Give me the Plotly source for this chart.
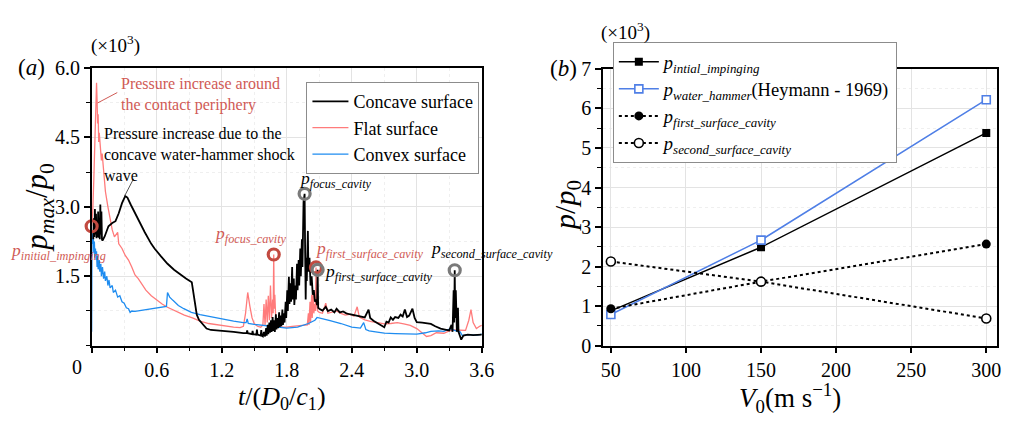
import plotly.graph_objects as go

W, H = 1016, 425
SERIF = "Liberation Serif"


def px(x):
    return x / W


def py(y):
    return 1 - y / H


# ---------------- panel (a): p_max/p0 (x10^3) against t/(D0/c1) ----------------
concave_t = [0.015, 0.02, 0.025, 0.03, 0.035, 0.04, 0.045, 0.05, 0.055, 0.06, 0.065, 0.07, 0.075,
             0.08, 0.085, 0.09, 0.095, 0.1, 0.12, 0.155, 0.19, 0.22, 0.25, 0.28, 0.31, 0.33, 0.36,
             0.4, 0.45, 0.49, 0.55, 0.58, 0.64, 0.70, 0.76, 0.82, 0.87, 0.924, 0.935, 0.945, 0.96,
             0.97, 0.99, 1.02, 1.06, 1.1, 1.16, 1.25, 1.31, 1.40, 1.43, 1.435, 1.44, 1.48, 1.485,
             1.49, 1.52, 1.525, 1.53, 1.56, 1.565, 1.57, 1.58, 1.59, 1.6, 1.61, 1.615, 1.625, 1.63,
             1.64, 1.645, 1.655, 1.66, 1.67, 1.675, 1.685, 1.69, 1.70, 1.705, 1.715, 1.72, 1.73,
             1.735, 1.745, 1.75, 1.76, 1.765, 1.775, 1.78, 1.79, 1.795, 1.805, 1.81, 1.82, 1.825,
             1.835, 1.84, 1.85, 1.855, 1.865, 1.87, 1.88, 1.885, 1.895, 1.90, 1.91, 1.915, 1.925,
             1.93, 1.94, 1.945, 1.955, 1.965, 1.97, 1.975, 1.98, 1.985, 1.995, 2.0, 2.01, 2.02,
             2.03, 2.04, 2.05, 2.06, 2.07, 2.08, 2.085, 2.09, 2.1, 2.13, 2.16, 2.18, 2.21, 2.24,
             2.26, 2.29, 2.32, 2.35, 2.38, 2.4, 2.44, 2.48, 2.52, 2.555, 2.57, 2.6, 2.63, 2.66,
             2.70, 2.72, 2.74, 2.76, 2.78, 2.80, 2.83, 2.85, 2.87, 2.89, 2.91, 2.93, 2.96, 2.98,
             3.0, 3.05, 3.1, 3.13, 3.17, 3.22, 3.26, 3.30, 3.32, 3.33, 3.34, 3.345, 3.35, 3.355,
             3.36, 3.37, 3.38, 3.385, 3.40, 3.41, 3.43, 3.47, 3.52, 3.56, 3.6]
concave_v = [2.30, 2.75, 2.35, 2.95, 2.40, 2.85, 2.32, 2.70, 2.35, 2.90, 2.33, 2.75, 2.30,
             3.05, 2.40, 2.90, 2.30, 2.27, 2.36, 2.58, 2.65, 2.69, 2.86, 3.08, 3.23, 3.20, 3.05,
             2.86, 2.62, 2.45, 2.20, 2.10, 1.93, 1.77, 1.64, 1.53, 1.45, 1.37, 1.20, 1.02, 0.80,
             0.67, 0.56, 0.47, 0.37, 0.34, 0.33, 0.31, 0.30, 0.27, 0.27, 0.33, 0.27, 0.25, 0.32,
             0.25, 0.24, 0.35, 0.24, 0.22, 0.34, 0.22, 0.20, 0.30, 0.20, 0.38, 0.22, 0.45, 0.25,
             0.50, 0.28, 0.55, 0.30, 0.62, 0.32, 0.55, 0.30, 0.68, 0.35, 0.60, 0.38, 0.72,
             0.40, 0.65, 0.42, 0.78, 0.45, 0.70, 0.50, 0.95, 0.60, 1.20, 0.75, 1.49, 0.90,
             1.35, 0.95, 1.70, 1.00, 1.45, 0.88, 1.30, 1.00, 1.77, 1.20, 1.85, 1.30, 2.10,
             1.50, 2.30, 1.70, 3.10, 3.28, 2.00, 1.00, 1.90, 1.40, 2.48, 1.60, 1.90, 1.30,
             1.50, 1.10, 1.20, 0.95, 1.00, 0.88, 1.64, 0.82, 0.80, 0.76, 0.84, 0.75, 0.78, 0.72,
             0.80, 0.72, 0.74, 0.70, 0.68, 0.67, 0.64, 0.62, 0.61, 0.78, 0.60, 0.54, 0.50, 0.45,
             0.40, 0.52, 0.50, 0.61, 0.56, 0.62, 0.60, 0.67, 0.63, 0.78, 0.62, 0.65, 0.80, 0.60,
             0.51, 0.50, 0.48, 0.47, 0.42, 0.37, 0.35, 0.33, 0.45, 0.30, 1.20, 0.50, 1.63, 0.60,
             1.20, 0.30, 0.82, 0.30, 0.20, 0.13, 0.22, 0.24, 0.23, 0.24, 0.24]

flat_t = [0.0, 0.01, 0.02, 0.03, 0.04, 0.045, 0.05, 0.055, 0.06, 0.065, 0.07, 0.08, 0.09, 0.097,
          0.11, 0.127, 0.15, 0.17, 0.19, 0.21, 0.225, 0.24, 0.25, 0.28, 0.31, 0.34, 0.37, 0.4,
          0.43, 0.47, 0.5, 0.55, 0.6, 0.65, 0.7, 0.78, 0.855, 0.93, 1.0, 1.08, 1.16, 1.24, 1.31,
          1.37, 1.40, 1.42, 1.44, 1.46, 1.48, 1.5, 1.53, 1.56, 1.58, 1.59, 1.60, 1.61, 1.62,
          1.63, 1.64, 1.65, 1.66, 1.67, 1.675, 1.68, 1.685, 1.69, 1.70, 1.72, 1.76, 1.8, 1.85,
          1.9, 1.95, 1.99, 2.0, 2.005, 2.015, 2.02, 2.03, 2.035, 2.045, 2.05, 2.06, 2.065, 2.07,
          2.075, 2.085, 2.1, 2.13, 2.16, 2.18, 2.22, 2.26, 2.3, 2.34, 2.38, 2.42, 2.45, 2.47,
          2.52, 2.58, 2.64, 2.70, 2.76, 2.82, 2.88, 2.94, 3.0, 3.05, 3.09, 3.13, 3.18, 3.25,
          3.3, 3.35, 3.4, 3.45, 3.48, 3.5, 3.52, 3.55, 3.58, 3.6]
flat_v = [2.58, 2.90, 3.60, 4.60, 5.40, 5.68, 5.30, 4.80, 5.00, 4.40, 4.60, 4.30, 4.00, 4.15,
          3.70, 3.33, 3.00, 2.70, 2.50, 2.35, 2.40, 2.45, 2.20, 2.10, 1.95, 1.85, 1.70, 1.53,
          1.45, 1.30, 1.20, 1.08, 0.98, 0.90, 0.83, 0.74, 0.66, 0.60, 0.53, 0.48, 0.45, 0.42, 0.40,
          0.39, 0.42, 0.70, 1.15, 0.85, 0.60, 0.48, 0.42, 0.40, 0.45, 0.90, 0.45, 1.00, 0.50,
          1.08, 0.55, 1.30, 0.60, 1.00, 0.70, 1.97, 0.80, 1.10, 0.50, 0.42, 0.40, 0.40, 0.42,
          0.43, 0.44, 0.45, 0.70, 0.45, 0.95, 0.50, 1.10, 0.60, 1.20, 0.70, 0.90, 0.75, 1.69,
          0.90, 0.75, 0.72, 0.70, 0.92, 0.70, 0.72, 0.75, 0.70, 0.66, 0.68, 0.64, 0.84, 0.62,
          0.56, 0.52, 0.50, 0.47, 0.48, 0.50, 0.47, 0.44, 0.37, 0.28, 0.20, 0.22, 0.28, 0.27,
          0.32, 0.34, 0.34, 0.33, 0.55, 0.78, 0.50, 0.37, 0.42, 0.44]

convex_t = [0.0, 0.003, 0.01, 0.015, 0.02, 0.025, 0.03, 0.035, 0.04, 0.045, 0.05, 0.055, 0.06,
            0.07, 0.075, 0.085, 0.09, 0.1, 0.11, 0.12, 0.127, 0.14, 0.15, 0.16, 0.17, 0.19, 0.2,
            0.22, 0.24, 0.26, 0.28, 0.3, 0.32, 0.34, 0.355, 0.37, 0.4, 0.45, 0.5, 0.55, 0.6, 0.65,
            0.69, 0.70, 0.72, 0.75, 0.8, 0.85, 0.92, 1.0, 1.08, 1.16, 1.25, 1.31, 1.4, 1.425,
            1.435, 1.445, 1.5, 1.6, 1.7, 1.8, 1.9, 2.0, 2.06, 2.08, 2.1, 2.2, 2.3, 2.4, 2.48,
            2.51, 2.53, 2.56, 2.62, 2.7, 2.8, 2.9, 3.0, 3.08, 3.13, 3.2, 3.25, 3.31, 3.36, 3.4,
            3.42, 3.46, 3.52, 3.56, 3.6]
convex_v = [0.30, 2.45, 2.20, 2.40, 2.00, 2.25, 1.90, 2.10, 1.85, 2.04, 1.70, 1.95, 1.65,
            1.85, 1.60, 1.77, 1.50, 1.70, 1.45, 1.60, 1.40, 1.50, 1.30, 1.42, 1.25, 1.30, 1.15,
            1.20, 1.05, 1.08, 0.95, 0.92, 0.82, 0.80, 0.72, 0.75, 0.74, 0.76, 0.77, 0.79, 0.81, 0.83,
            0.85, 1.15, 1.05, 0.98, 0.87, 0.80, 0.72, 0.67, 0.63, 0.60, 0.55, 0.53, 0.50, 0.50,
            0.58, 0.48, 0.46, 0.44, 0.41, 0.38, 0.40, 0.48, 0.55, 0.61, 0.60, 0.54, 0.48, 0.40, 0.38,
            0.50, 0.35, 0.32, 0.30, 0.27, 0.26, 0.25, 0.25, 0.28, 0.31, 0.32, 0.31, 0.37, 0.32, 0.30,
            0.22, 0.24, 0.24, 0.23, 0.25]

# marked events on the flat and concave curves
flat_mark_t = [0.0, 1.68, 2.07]
flat_mark_v = [2.58, 1.97, 1.69]
concave_mark_t = [1.965, 2.085, 3.35]
concave_mark_v = [3.28, 1.64, 1.63]

a_xticks = [0, 0.6, 1.2, 1.8, 2.4, 3.0, 3.6]
a_xticktext = ["", "0.6", "1.2", "1.8", "2.4", "3.0", "3.6"]
a_yticks = [1.5, 3.0, 4.5, 6.0]
a_yticktext = ["1.5", "3.0", "4.5", "6.0"]

# ---------------- panel (b): p/p0 (x10^3) against V0 ----------------
v0 = [50, 150, 300]
p_initial = [0.88, 2.49, 5.38]
p_water_hammer = [0.79, 2.67, 6.22]
p_first_cavity = [0.935, 1.62, 2.57]
p_second_cavity = [2.13, 1.62, 0.69]

b_xticks = [50, 100, 150, 200, 250, 300]
b_yticks = [0, 1, 2, 3, 4, 5, 6, 7]

PINK = "#ff7b7b"
BLUE = "#1e8cf0"
RED_MARK = "#c24a40"
RED_TEXT = "#d05a55"
GRAY_MARK = "#7a7a7a"
BLUE_B = "#4f7fe6"

fig = go.Figure()

# panel (a) curves
fig.add_trace(go.Scatter(x=flat_t, y=flat_v, mode="lines", name="Flat surface",
                         line=dict(color=PINK, width=1.3), legendrank=2,
                         xaxis="x", yaxis="y", legend="legend"))
fig.add_trace(go.Scatter(x=convex_t, y=convex_v, mode="lines", name="Convex surface",
                         line=dict(color=BLUE, width=1.3), legendrank=3,
                         xaxis="x", yaxis="y", legend="legend"))
fig.add_trace(go.Scatter(x=concave_t, y=concave_v, mode="lines", name="Concave surface",
                         line=dict(color="black", width=1.8), legendrank=1,
                         xaxis="x", yaxis="y", legend="legend"))
fig.add_trace(go.Scatter(x=flat_mark_t, y=flat_mark_v, mode="markers", showlegend=False,
                         cliponaxis=False,
                         marker=dict(symbol="circle-open", size=11, color=RED_MARK,
                                     line=dict(width=3.2)),
                         xaxis="x", yaxis="y"))
fig.add_trace(go.Scatter(x=concave_mark_t, y=concave_mark_v, mode="markers", showlegend=False,
                         cliponaxis=False,
                         marker=dict(symbol="circle-open", size=11, color=GRAY_MARK,
                                     line=dict(width=3.2)),
                         xaxis="x", yaxis="y"))

# panel (b) series
fig.add_trace(go.Scatter(x=v0, y=p_initial, mode="lines+markers",
                         name="<i>p</i><sub><i>intial_impinging</i></sub>",
                         line=dict(color="black", width=1.5),
                         marker=dict(symbol="square", size=8, color="black"),
                         xaxis="x2", yaxis="y2", legend="legend2"))
fig.add_trace(go.Scatter(x=v0, y=p_water_hammer, mode="lines+markers",
                         name="<i>p</i><sub><i>water_hammer</i></sub>(Heymann - 1969)",
                         line=dict(color=BLUE_B, width=1.5),
                         marker=dict(symbol="square", size=8, color="white",
                                     line=dict(color=BLUE_B, width=1.6)),
                         xaxis="x2", yaxis="y2", legend="legend2"))
fig.add_trace(go.Scatter(x=v0, y=p_first_cavity, mode="lines+markers",
                         name="<i>p</i><sub><i>first_surface_cavity</i></sub>",
                         line=dict(color="black", width=2, dash="dot"),
                         marker=dict(symbol="circle", size=9, color="black"),
                         xaxis="x2", yaxis="y2", legend="legend2"))
fig.add_trace(go.Scatter(x=v0, y=p_second_cavity, mode="lines+markers",
                         name="<i>p</i><sub><i>second_surface_cavity</i></sub>",
                         line=dict(color="black", width=2, dash="dot"),
                         marker=dict(symbol="circle", size=9, color="white",
                                     line=dict(color="black", width=1.6)),
                         xaxis="x2", yaxis="y2", legend="legend2"))

axis_common = dict(
    showline=True, linecolor="black", linewidth=1.5, mirror=True,
    ticks="outside", ticklen=6, tickwidth=1.5, tickcolor="black",
    showgrid=True, gridcolor="#e3e3e3", gridwidth=1, zeroline=False,
    tickfont=dict(family=SERIF, size=20, color="black"),
)

fig.update_layout(
    width=W, height=H,
    margin=dict(l=0, r=0, t=0, b=0),
    paper_bgcolor="white", plot_bgcolor="white",
    font=dict(family=SERIF, color="black"),
    xaxis=dict(axis_common, domain=[px(91), px(487)], range=[0, 3.6], anchor="y",
               tickmode="array", tickvals=a_xticks, ticktext=a_xticktext,
               minor=dict(tickmode="linear", tick0=0, dtick=0.3, ticks="outside", ticklen=4,
                          tickwidth=1.2, tickcolor="black", showgrid=True,
                          gridcolor="#efefef", griddash="dot")),
    yaxis=dict(axis_common, domain=[py(353), py(60)], range=[0, 6.0], anchor="x",
               tickmode="array", tickvals=a_yticks, ticktext=a_yticktext,
               minor=dict(tickmode="linear", tick0=0, dtick=0.75, ticks="outside", ticklen=4,
                          tickwidth=1.2, tickcolor="black", showgrid=True,
                          gridcolor="#efefef", griddash="dot")),
    xaxis2=dict(axis_common, domain=[px(610), px(1010)], range=[44.76, 307.2], anchor="y2",
                tickmode="array", tickvals=b_xticks),
    yaxis2=dict(axis_common, domain=[py(353), py(61)], range=[0, 7], anchor="x2",
                tickmode="array", tickvals=b_yticks,
                minor=dict(tickmode="linear", tick0=0, dtick=0.5, ticks="outside", ticklen=4,
                           tickwidth=1.2, tickcolor="black", showgrid=True,
                           gridcolor="#efefef", griddash="dot")),
    legend=dict(x=px(309), y=py(75), xanchor="left", yanchor="top",
                bgcolor="white", bordercolor="#8c8c8c", borderwidth=1,
                font=dict(family=SERIF, size=18, color="black"),
                itemwidth=36, tracegroupgap=0),
    legend2=dict(x=px(620), y=py(33), xanchor="left", yanchor="top",
                 bgcolor="white", bordercolor="#8c8c8c", borderwidth=1,
                 font=dict(family=SERIF, size=18.5, color="black"),
                 itemwidth=40, tracegroupgap=0),
)

ann = []


def label(x, y, text, size=19, color="black", xanchor="center", angle=0):
    ann.append(dict(xref="paper", yref="paper", x=px(x), y=py(y), text=text,
                    showarrow=False, xanchor=xanchor, yanchor="middle", textangle=angle,
                    font=dict(family=SERIF, size=size, color=color)))


# panel captions and scale factors
label(30, 60, "(<i>a</i>)", size=23)
label(570, 61, "(<i>b</i>)", size=23)
label(115, 35, "(×10<sup>3</sup>)", size=19)
label(633, 22, "(×10<sup>3</sup>)", size=19)
label(76, 375, "0", size=20)

# axis titles
label(284, 408, "<i>t</i>/(<i>D</i><sub>0</sub>/<i>c</i><sub>1</sub>)", size=26)
label(38, 207, "<i>p</i><sub><i>max</i></sub>/<i>p</i><sub>0</sub>", size=31, angle=-90)
label(800, 408, "<i>V</i><sub>0</sub>(m s<sup>−1</sup>)", size=27)
label(574, 205, "<i>p</i>/<i>p</i><sub>0</sub>", size=30, angle=-90)

# event labels in panel (a)
label(6, 254, "<i>p</i><sub><i>initial_impinging</i></sub>", size=17.5, color=RED_TEXT,
      xanchor="left")
label(213, 236, "<i>p</i><sub><i>focus_cavity</i></sub>", size=17.5, color=RED_TEXT,
      xanchor="left")
label(316, 252, "<i>p</i><sub><i>first_surface_cavity</i></sub>", size=17.5, color=RED_TEXT,
      xanchor="left")
label(299, 178, "<i>p</i><sub><i>focus_cavity</i></sub>", size=17.5, xanchor="left")
label(325, 276, "<i>p</i><sub><i>first_surface_cavity</i></sub>", size=17.5, xanchor="left")
label(432, 252, "<i>p</i><sub><i>second_surface_cavity</i></sub>", size=17.5, xanchor="left")

# explanatory notes
ann.append(dict(xref="paper", yref="paper", x=px(119), y=py(88),
                text="Pressure increase around<br>the contact periphery",
                showarrow=False, xanchor="left", yanchor="middle", align="left",
                font=dict(family=SERIF, size=16, color=RED_TEXT)))
ann.append(dict(xref="paper", yref="paper", x=px(101), y=py(151),
                text="Pressure increase due to the<br>concave water-hammer shock<br>wave",
                showarrow=False, xanchor="left", yanchor="middle", align="left",
                font=dict(family=SERIF, size=16, color="black")))
fig.update_layout(annotations=ann)

# leader lines from the notes to the curves
fig.add_shape(type="line", xref="paper", yref="paper",
              x0=px(97), y0=py(97), x1=px(117), y1=py(86),
              line=dict(color=RED_TEXT, width=1))
fig.add_shape(type="line", xref="paper", yref="paper",
              x0=px(124.5), y0=py(195), x1=px(133.5), y1=py(177),
              line=dict(color="#555555", width=1))

fig.write_html("out.html")
